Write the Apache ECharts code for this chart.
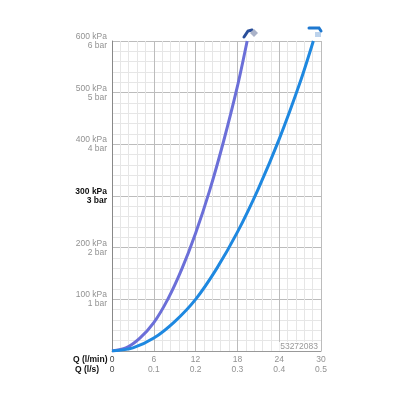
<!DOCTYPE html>
<html><head><meta charset="utf-8">
<script src="https://cdn.jsdelivr.net/npm/echarts@6/dist/echarts.min.js"></script>
<style>html,body{margin:0;padding:0;background:#fff}#c{width:400px;height:400px}</style>
</head><body><div id="c"></div>
<script>
// Data (Q in l/min, pressure in kPa)
const handShowerQ = [0, 2, 4, 6, 8, 10, 12, 14, 16, 18, 19.4];
const handShowerP = [0, 6, 25, 55, 100, 158, 228, 310, 405, 512, 600];
const headShowerQ = [0, 3, 6, 9, 12, 15, 18, 21, 24, 27, 28.9];
const headShowerP = [0, 6, 25, 57, 100, 159, 230, 314, 410, 520, 600];
// Tick labels
const xTicksLmin = ['0', '6', '12', '18', '24', '30'];
const xTicksLs = ['0', '0.1', '0.2', '0.3', '0.4', '0.5'];
const yTicksKpa = ['0 kPa', '100 kPa', '200 kPa', '300 kPa', '400 kPa', '500 kPa', '600 kPa'];
const yTicksBar = ['0 bar', '1 bar', '2 bar', '3 bar', '4 bar', '5 bar', '6 bar'];
const productCode = '53272083';

const chart = echarts.init(document.getElementById('c'), null, {renderer: 'canvas'});
const font = 'Liberation Sans, Arial, sans-serif';
const pts = (xs, ys) => xs.map((x, i) => [x, ys[i]]);

chart.setOption({
  animation: false,
  grid: {left: 112, right: 79, top: 41, bottom: 49, containLabel: false},
  xAxis: {
    type: 'value', min: 0, max: 30, interval: 6,
    axisLine: {show: true, lineStyle: {color: '#999', width: 1}},
    axisTick: {show: false},
    minorTick: {show: false, splitNumber: 5},
    splitLine: {show: true, lineStyle: {color: '#bcbcbc', width: 1}},
    minorSplitLine: {show: true, lineStyle: {color: '#e6e6e6', width: 1}},
    axisLabel: {
      margin: 4, fontFamily: font, fontSize: 8.5, color: '#929292', lineHeight: 10,
      formatter: (v) => {
        const i = Math.round(v / 6);
        if (i === 0) return '{d|' + xTicksLmin[i] + '}\n{d|' + xTicksLs[i] + '}';
        return xTicksLmin[i] + '\n' + xTicksLs[i];
      },
      rich: {d: {color: '#444', fontFamily: font, fontSize: 8.5, lineHeight: 10}}
    }
  },
  yAxis: {
    type: 'value', min: 0, max: 600, interval: 100,
    axisLine: {show: true, lineStyle: {color: '#888', width: 1}},
    axisTick: {show: false},
    minorTick: {show: false, splitNumber: 5},
    splitLine: {show: true, lineStyle: {color: '#bcbcbc', width: 1}},
    minorSplitLine: {show: true, lineStyle: {color: '#e6e6e6', width: 1}},
    axisLabel: {
      margin: 5, fontFamily: font, fontSize: 8.5, color: '#929292', lineHeight: 9, align: 'right',
      formatter: (v) => {
        const i = Math.round(v / 100);
        if (i === 0) return '';
        if (i === 3) return '{b|' + yTicksKpa[i] + '}\n{b|' + yTicksBar[i] + '}';
        return yTicksKpa[i] + '\n' + yTicksBar[i];
      },
      rich: {b: {color: '#111', fontWeight: 'bold', fontFamily: font, fontSize: 8.5, lineHeight: 9, align: 'right'}}
    }
  },
  series: [
    {type: 'line', data: pts(handShowerQ, handShowerP), smooth: 0.3, showSymbol: false,
     lineStyle: {color: '#6b6fd8', width: 3}, z: 3},
    {type: 'line', data: pts(headShowerQ, headShowerP), smooth: 0.3, showSymbol: false,
     lineStyle: {color: '#1e88e0', width: 3}, z: 3}
  ],
  graphic: [
    {type: 'text', left: 73, top: 355, style: {text: 'Q (l/min)', font: 'bold 8.5px ' + font, fill: '#111'}},
    {type: 'text', left: 75, top: 365, style: {text: 'Q (l/s)', font: 'bold 8.5px ' + font, fill: '#111'}},
    {type: 'text', right: 81, top: 342, z: 10,
     style: {text: productCode, font: '8.5px ' + font, fill: '#999', backgroundColor: '#fff', padding: [0, 1]}},
    // hand shower icon
    {type: 'polyline', z: 10, shape: {points: [[244, 37], [248, 31], [252, 30]]},
     style: {stroke: '#2a4f9a', lineWidth: 3, fill: null, lineCap: 'round'}},
    {type: 'polygon', z: 10, shape: {points: [[254, 29], [258, 33], [254, 37], [250, 33]]},
     style: {fill: '#aab2c8'}},
    // overhead shower icon
    {type: 'polyline', z: 10, shape: {points: [[309, 28], [319, 28], [321, 31]]},
     style: {stroke: '#1e78d0', lineWidth: 3, fill: null, lineCap: 'round'}},
    {type: 'line', z: 10, shape: {x1: 316, y1: 32, x2: 316, y2: 37}, style: {stroke: '#7aa6d8', lineWidth: 1}},
    {type: 'line', z: 10, shape: {x1: 318, y1: 32, x2: 318, y2: 37}, style: {stroke: '#7aa6d8', lineWidth: 1}},
    {type: 'line', z: 10, shape: {x1: 320, y1: 32, x2: 320, y2: 37}, style: {stroke: '#7aa6d8', lineWidth: 1}}
  ]
});
</script></body></html>
